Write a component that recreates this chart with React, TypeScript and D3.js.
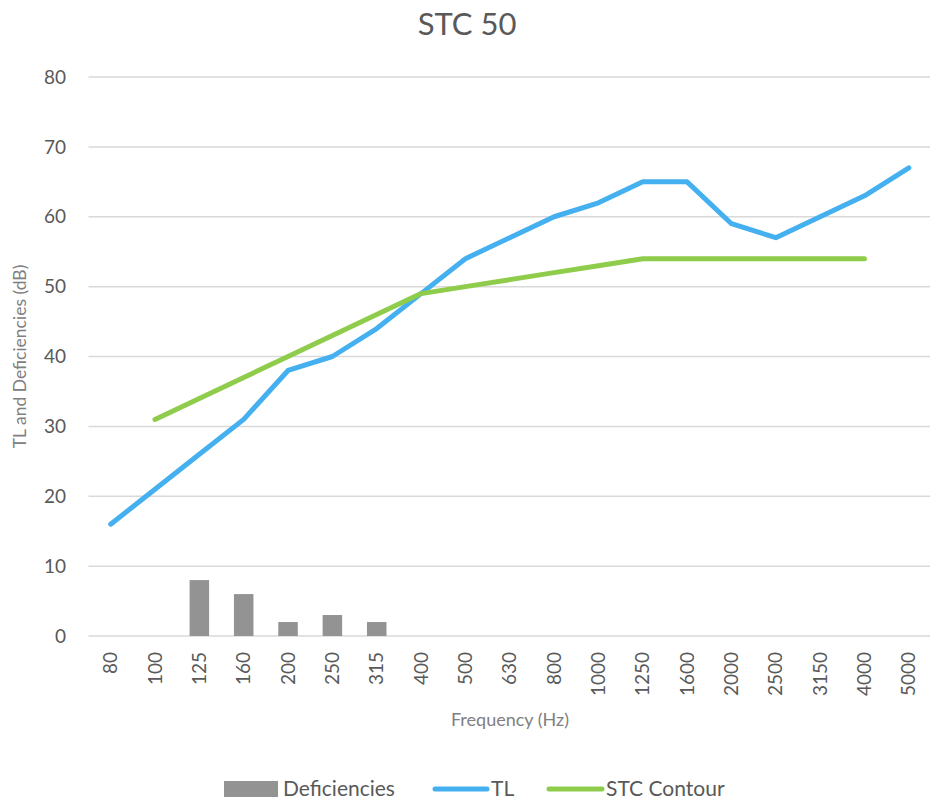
import React from "react";
import * as d3 from "d3";

const frequencies = ["80","100","125","160","200","250","315","400","500","630","800","1000","1250","1600","2000","2500","3150","4000","5000"];
const tlValues = [16,21,26,31,38,40,44,49,54,57,60,62,65,65,59,57,60,63,67];
const stcContour: (number | null)[] = [null,31,34,37,40,43,46,49,50,51,52,53,54,54,54,54,54,54,null];
const deficiencies = [0,0,8,6,2,3,2,0,0,0,0,0,0,0,0,0,0,0,0];
const yTicks = [0,10,20,30,40,50,60,70,80];

const W = 930, H = 802;
const FONT = "Lato, 'Open Sans', sans-serif";
const BLUE = "#45B0F0";
const GREEN = "#8FCC4B";
const GRAY = "#939393";

export default function App() {
  const x = d3.scaleBand<string>().domain(frequencies).range([88.5, 931]).padding(0);
  const y = d3.scaleLinear().domain([0, 80]).range([636, 77]);
  const cx = (f: string) => (x(f) as number) + x.bandwidth() / 2;
  const barW = x.bandwidth() * 0.44;

  const tlLine = d3.line<number>()
    .x((_, i) => cx(frequencies[i]))
    .y((d) => y(d));
  const stcLine = d3.line<number | null>()
    .defined((d) => d !== null)
    .x((_, i) => cx(frequencies[i]))
    .y((d) => y(d as number));

  return (
    <svg width={W} height={H} style={{ position: "absolute", left: 0, top: 0, background: "#fff" }}>
      <rect width={W} height={H} fill="#fff" />
      <text x={467} y={35} textAnchor="middle" fontFamily={FONT} fontSize={31} fill="#595959">STC 50</text>

      {yTicks.map((t) => (
        <g key={t}>
          <line x1={88.5} x2={931} y1={y(t)} y2={y(t)} stroke="#D9D9D9" strokeWidth={1.5} />
          <text x={66} y={y(t)} dy="0.35em" textAnchor="end" fontFamily={FONT} fontSize={19} fill="#595959">{t}</text>
        </g>
      ))}

      <text transform={`translate(26,${(y(0) + y(80)) / 2}) rotate(-90)`} textAnchor="middle" fontFamily={FONT} fontSize={17.5} fill="#808080">TL and Deficiencies (dB)</text>

      {deficiencies.map((d, i) => d > 0 ? (
        <rect key={i} x={cx(frequencies[i]) - barW / 2} y={y(d)} width={barW} height={y(0) - y(d)} fill={GRAY} />
      ) : null)}

      <path d={tlLine(tlValues) as string} fill="none" stroke={BLUE} strokeWidth={5} strokeLinejoin="round" strokeLinecap="round" />
      <path d={stcLine(stcContour) as string} fill="none" stroke={GREEN} strokeWidth={5} strokeLinejoin="round" strokeLinecap="round" />

      {frequencies.map((f) => (
        <text key={f} transform={`translate(${cx(f)},652) rotate(-90)`} dy="0.35em" textAnchor="end" fontFamily={FONT} fontSize={19} fill="#595959">{f}</text>
      ))}

      <text x={510} y={726} textAnchor="middle" fontFamily={FONT} fontSize={18} fill="#808080">Frequency (Hz)</text>

      <g fontFamily={FONT} fontSize={21} fill="#595959">
        <rect x={224} y={781} width={54} height={16} fill={GRAY} />
        <text x={283} y={796}>Deficiencies</text>
        <line x1={435} x2={487} y1={789} y2={789} stroke={BLUE} strokeWidth={5} strokeLinecap="round" />
        <text x={491} y={796}>TL</text>
        <line x1={549} x2={602} y1={789} y2={789} stroke={GREEN} strokeWidth={5} strokeLinecap="round" />
        <text x={606} y={796}>STC Contour</text>
      </g>
    </svg>
  );
}
